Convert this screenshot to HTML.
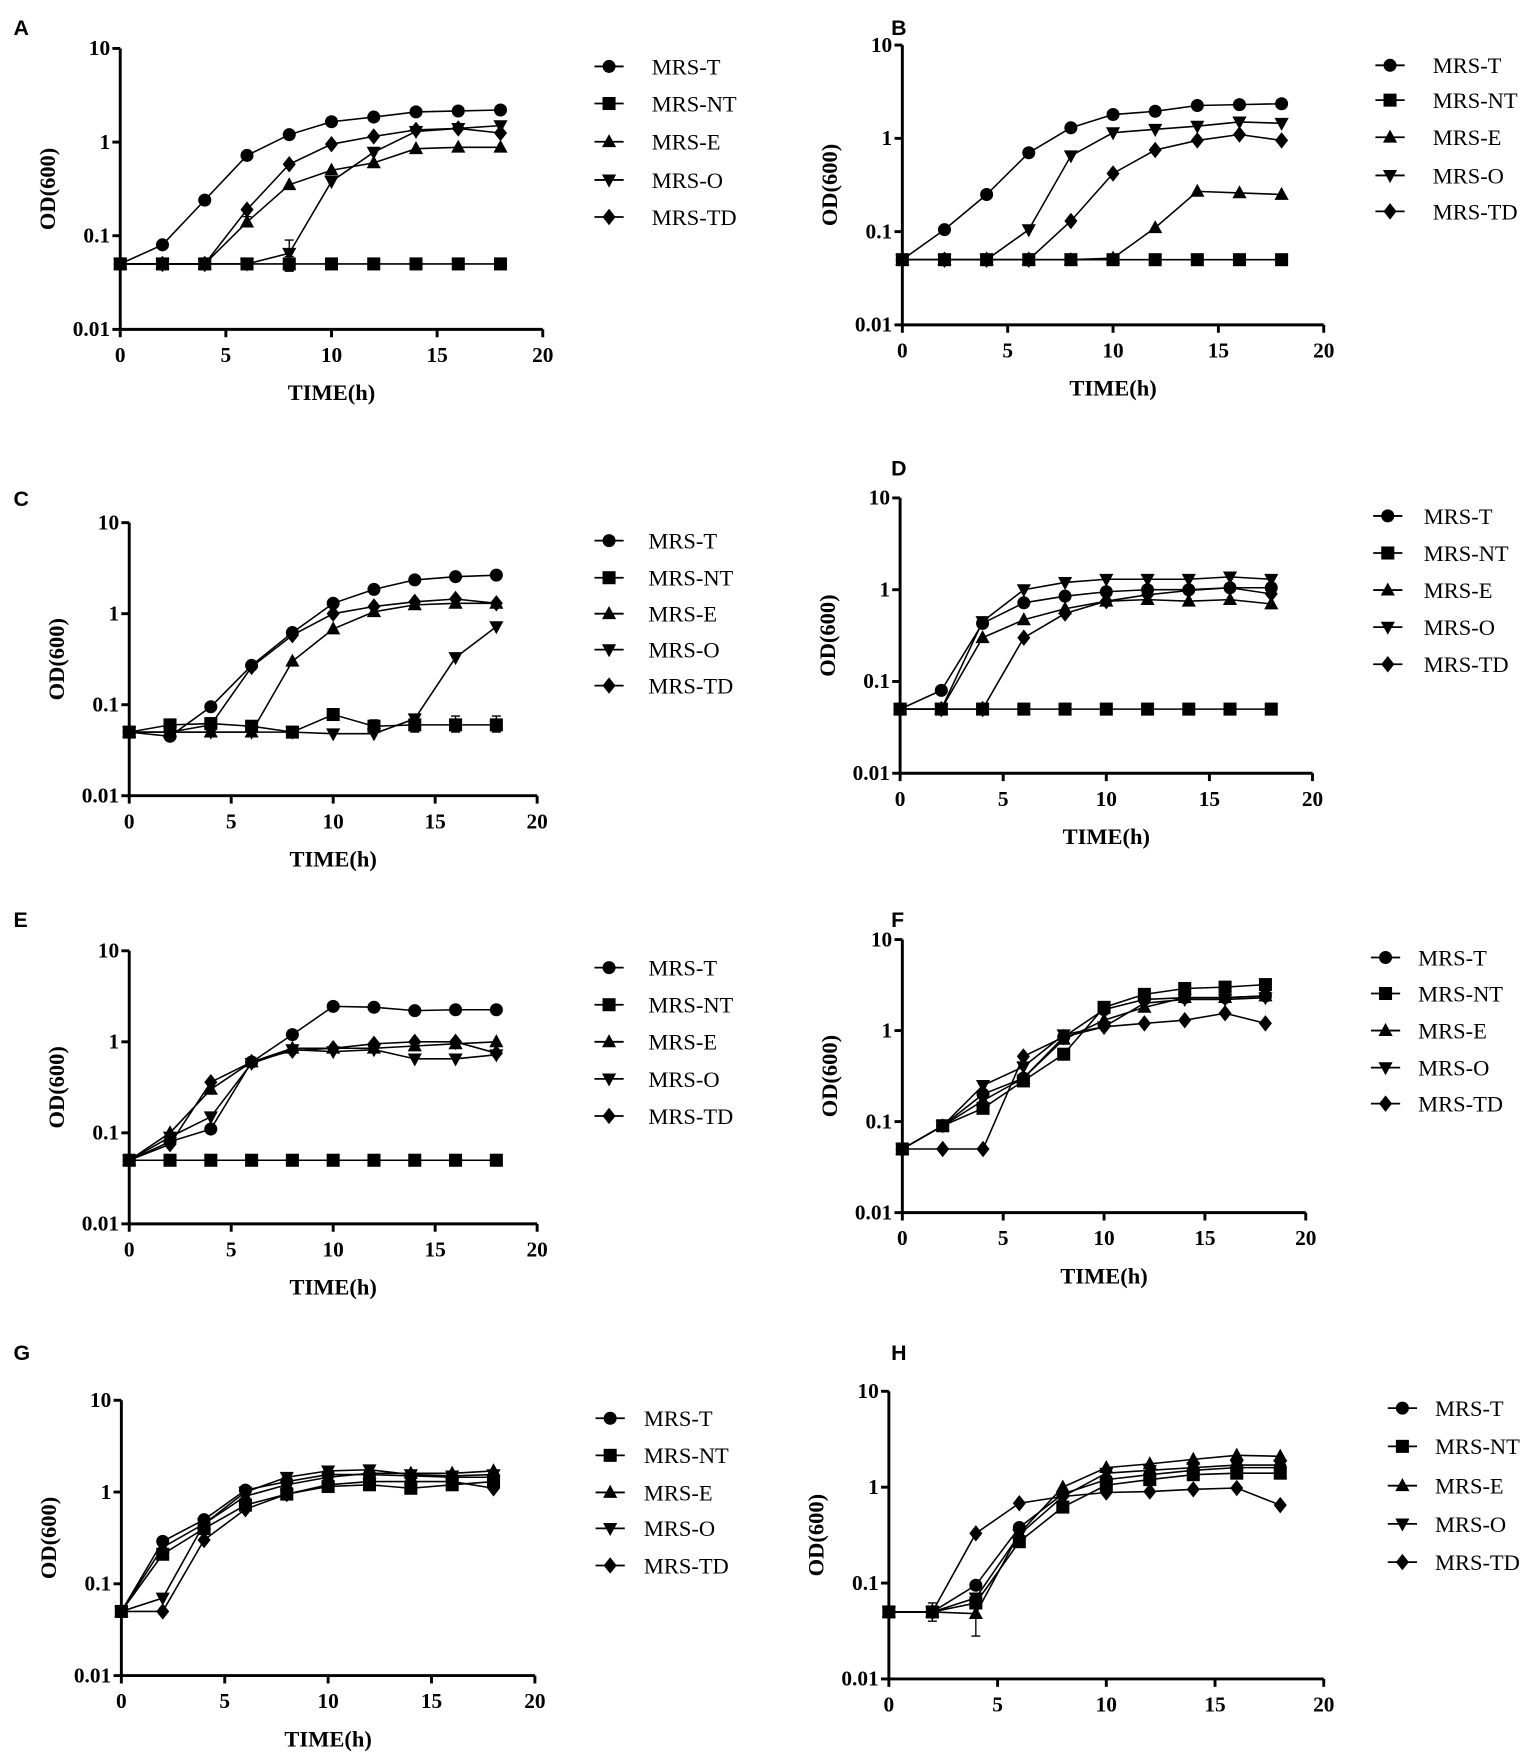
<!DOCTYPE html>
<html><head><meta charset="utf-8"><style>
html,body{margin:0;padding:0;background:#fff}
svg{display:block}
.tk{font-family:"Liberation Serif",serif;font-weight:bold;font-size:19px}
.ttl{font-family:"Liberation Serif",serif;font-weight:bold;font-size:20px}
.lg{font-family:"Liberation Serif",serif;font-size:20px}
.pl{font-family:"Liberation Sans",sans-serif;font-weight:bold;font-size:19px}
</style></head><body>
<svg id="fig" width="1535" height="1760" viewBox="0 0 1366 1566" xmlns="http://www.w3.org/2000/svg"></svg>
<script>
const times=[0,2,4,6,8,10,12,14,16,18];
const seriesNames=["MRS-T","MRS-NT","MRS-E","MRS-O","MRS-TD"];
const xTicks=[0,5,10,15,20];
const yTicks=[10,1,0.1,0.01];
const yTickLabels=["10","1","0.1","0.01"];
const A_T=[.05,.08,.24,.72,1.2,1.65,1.85,2.1,2.15,2.2];
const A_NT=[.05,.05,.05,.05,.05,.05,.05,.05,.05,.05];
const A_E=[.05,.05,.05,.14,.35,.5,.6,.85,.88,.88];
const A_O=[.05,.05,.05,.05,.065,.38,.78,1.3,1.4,1.5];
const A_TD=[.05,.05,.05,.19,.58,.95,1.15,1.35,1.4,1.25];
const B_T=[.05,.105,.25,.7,1.3,1.8,1.95,2.25,2.3,2.35];
const B_NT=[.05,.05,.05,.05,.05,.05,.05,.05,.05,.05];
const B_E=[.05,.05,.05,.05,.05,.052,.11,.27,.26,.25];
const B_O=[.05,.05,.05,.105,.65,1.15,1.25,1.35,1.5,1.45];
const B_TD=[.05,.05,.05,.05,.13,.42,.75,.95,1.1,.95];
const C_T=[.05,.045,.095,.27,.62,1.3,1.85,2.35,2.55,2.65];
const C_NT=[.05,.06,.062,.058,.05,.078,.058,.06,.06,.06];
const C_E=[.05,.05,.05,.05,.3,.68,1.05,1.25,1.3,1.3];
const C_O=[.05,.05,.05,.05,.05,.048,.048,.07,.33,.72];
const C_TD=[.05,.05,.06,.26,.58,1.0,1.2,1.35,1.45,1.3];
const D_T=[.05,.08,.43,.72,.85,.95,1.0,1.0,1.05,1.05];
const D_NT=[.05,.05,.05,.05,.05,.05,.05,.05,.05,.05];
const D_E=[.05,.05,.3,.47,.62,.75,.78,.75,.78,.7];
const D_O=[.05,.05,.45,1.0,1.2,1.3,1.3,1.3,1.38,1.3];
const D_TD=[.05,.05,.05,.3,.55,.75,.88,.98,1.05,.9];
const E_T=[.05,.08,.11,.6,1.2,2.45,2.4,2.2,2.25,2.25];
const E_NT=[.05,.05,.05,.05,.05,.05,.05,.05,.05,.05];
const E_E=[.05,.1,.3,.6,.85,.85,.85,.9,.95,1.0];
const E_O=[.05,.09,.15,.58,.82,.78,.82,.65,.65,.72];
const E_TD=[.05,.075,.36,.6,.8,.85,.95,1.0,1.0,.75];
const F_T=[.05,.09,.2,.3,.85,1.7,2.2,2.3,2.3,2.4];
const F_NT=[.05,.09,.14,.28,.55,1.8,2.5,2.9,3.0,3.2];
const F_E=[.05,.09,.17,.3,.8,1.3,1.8,2.3,2.3,2.4];
const F_O=[.05,.09,.25,.4,.9,1.1,2.0,2.2,2.2,2.3];
const F_TD=[.05,.05,.05,.52,.85,1.1,1.2,1.3,1.55,1.2];
const G_T=[.05,.29,.5,1.05,1.3,1.55,1.55,1.5,1.45,1.45];
const G_NT=[.05,.21,.4,.72,.95,1.15,1.2,1.1,1.2,1.3];
const G_E=[.05,.25,.45,.9,1.2,1.45,1.6,1.6,1.6,1.7];
const G_O=[.05,.07,.45,1.0,1.45,1.7,1.75,1.55,1.5,1.55];
const G_TD=[.05,.05,.3,.65,.95,1.2,1.3,1.3,1.3,1.1];
const H_T=[.05,.05,.095,.38,.85,1.2,1.35,1.5,1.6,1.6];
const H_NT=[.05,.05,.062,.27,.62,1.05,1.2,1.35,1.4,1.4];
const H_E=[.05,.05,.048,.33,1.0,1.6,1.75,1.95,2.15,2.1];
const H_O=[.05,.05,.07,.32,.8,1.4,1.5,1.6,1.7,1.7];
const H_TD=[.05,.05,.33,.68,.8,.88,.9,.95,.98,.65];
// error bars: [panel, series index, time index, low, high]
const errorBars=[["A",3,4,0.042,0.09],["A",1,4,0.042,0.06],["A",2,3,0.125,0.16],["C",1,7,0.05,0.075],["C",1,8,0.05,0.075],["C",1,9,0.05,0.075],["C",1,6,0.05,0.068],["H",1,1,0.04,0.062],["H",2,2,0.028,0.06]];

const panels=[
 {id:"A",data:[A_T,A_NT,A_E,A_O,A_TD],ax:107,yTop:43,yBot:293,xEnd:483,lm:542,lt:580,ly:[59,92,126,160,193],labY:18,xt:true},
 {id:"B",data:[B_T,B_NT,B_E,B_O,B_TD],ax:803,yTop:40,yBot:289,xEnd:1178,lm:1237,lt:1275,ly:[58,89,122,156,188],labY:18,xt:true},
 {id:"C",data:[C_T,C_NT,C_E,C_O,C_TD],ax:115,yTop:465,yBot:708,xEnd:478,lm:542,lt:577,ly:[481,514,546,578,610],labY:437,xt:true},
 {id:"D",data:[D_T,D_NT,D_E,D_O,D_TD],ax:801,yTop:443,yBot:688,xEnd:1168,lm:1235,lt:1267,ly:[459,492,525,558,591],labY:410,xt:true},
 {id:"E",data:[E_T,E_NT,E_E,E_O,E_TD],ax:115,yTop:846,yBot:1089,xEnd:478,lm:542,lt:577,ly:[861,894,927,960,993],labY:812,xt:true},
 {id:"F",data:[F_T,F_NT,F_E,F_O,F_TD],ax:803,yTop:836,yBot:1079,xEnd:1162,lm:1233,lt:1262,ly:[852,884,917,950,982],labY:812,xt:true},
 {id:"G",data:[G_T,G_NT,G_E,G_O,G_TD],ax:108,yTop:1246,yBot:1491,xEnd:476,lm:543,lt:573,ly:[1262,1295,1328,1360,1393],labY:1197,xt:true},
 {id:"H",data:[H_T,H_NT,H_E,H_O,H_TD],ax:791,yTop:1238,yBot:1494,xEnd:1178,lm:1248,lt:1277,ly:[1253,1287,1322,1356,1390],labY:1197,xt:false}
];
const NS="http://www.w3.org/2000/svg";
const svg=document.getElementById("fig");
function mk(tag,attrs,parent){const e=document.createElementNS(NS,tag);for(const k in attrs)e.setAttribute(k,attrs[k]);(parent||svg).appendChild(e);return e;}
function marker(g,kind,x,y){
 const r=5.8;let m;
 if(kind===0)m=mk("circle",{cx:x,cy:y,r:r},g);
 else if(kind===1)m=mk("rect",{x:x-r,y:y-r,width:2*r,height:2*r},g);
 else if(kind===2)m=mk("polygon",{points:`${x},${y-r-1} ${x-r-0.5},${y+r-1} ${x+r+0.5},${y+r-1}`},g);
 else if(kind===3)m=mk("polygon",{points:`${x},${y+r+1} ${x-r-0.5},${y-r+1} ${x+r+0.5},${y-r+1}`},g);
 else m=mk("polygon",{points:`${x},${y-r-1.5} ${x+r},${y} ${x},${y+r+1.5} ${x-r},${y}`},g);
 m.setAttribute("fill","#000");
 return m;
}
panels.forEach(p=>{
 const g=mk("g",{});
 
 
 const xs=v=>p.ax+(v/20)*(p.xEnd-p.ax);
 const ys=v=>p.yBot-(Math.log10(v)+2)/3*(p.yBot-p.yTop);
 const lab=mk("text",{x:"ACEG".includes(p.id)?12:793,y:p.labY+13,class:"pl"},g);lab.textContent=p.id;
 
 const axes=mk("g",{stroke:"#000","stroke-width":2.6,fill:"none"},g);
 
 mk("line",{x1:p.ax,y1:p.yTop,x2:p.ax,y2:p.yBot+1},axes);
 mk("line",{x1:p.ax-1,y1:p.yBot,x2:p.xEnd,y2:p.yBot},axes);
 yTicks.forEach((t,i)=>{const y=ys(t);mk("line",{x1:p.ax-7,y1:y,x2:p.ax,y2:y},axes);
  const tx=mk("text",{x:p.ax-9,y:y+6,"text-anchor":"end",class:"tk"},g);tx.textContent=yTickLabels[i];
  });
 xTicks.forEach(t=>{const x=xs(t);mk("line",{x1:x,y1:p.yBot,x2:x,y2:p.yBot+7},axes);
  const tx=mk("text",{x:x,y:p.yBot+29,"text-anchor":"middle",class:"tk"},g);tx.textContent=t;
  });
 const yt=mk("text",{transform:`translate(${p.ax-58},${(p.yTop+p.yBot)/2}) rotate(-90)`,"text-anchor":"middle",class:"ttl"},g);yt.textContent="OD(600)";
 
 if(p.xt){const xt=mk("text",{x:(p.ax+p.xEnd)/2,y:p.yBot+63,"text-anchor":"middle",class:"ttl"},g);xt.textContent="TIME(h)";
  }
 errorBars.filter(e=>e[0]===p.id).forEach(e=>{
  const x=xs(times[e[2]]);const eb=mk("path",{d:`M${x-4},${ys(e[3])}H${x+4}M${x},${ys(e[3])}V${ys(e[4])}M${x-4},${ys(e[4])}H${x+4}`,stroke:"#000","stroke-width":1.2,fill:"none"},g);
  
 });
 p.data.forEach((vals,si)=>{
  const sg=mk("g",{},g);
  
  
  mk("polyline",{points:vals.map((v,i)=>xs(times[i])+","+ys(v)).join(" "),fill:"none",stroke:"#000","stroke-width":1.4},sg);
  vals.forEach((v,i)=>{const m=marker(sg,si,xs(times[i]),ys(v));
   });
  const lg=mk("g",{},g);
  
  
  const ly=p.ly[si];
  mk("line",{x1:p.lm-13,y1:ly,x2:p.lm+13,y2:ly,stroke:"#000","stroke-width":1.6},lg);
  marker(lg,si,p.lm,ly);
  const lt=mk("text",{x:p.lt,y:ly+7,class:"lg"},lg);lt.textContent=seriesNames[si];
 });
});
</script>
</body></html>
